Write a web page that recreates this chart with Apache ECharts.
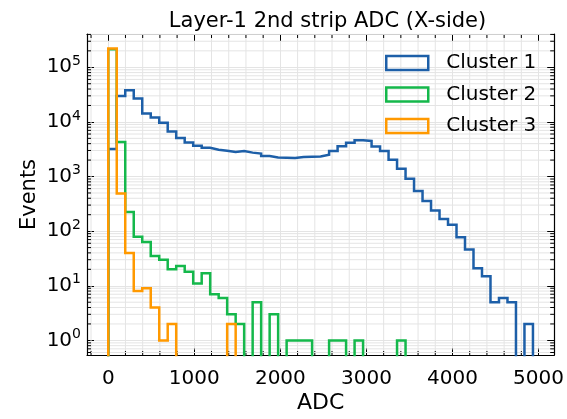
<!DOCTYPE html>
<html>
<head>
<meta charset="utf-8">
<script src="https://cdn.jsdelivr.net/npm/echarts@6/dist/echarts.min.js"></script>
<style>
  html, body { margin: 0; padding: 0; background: #fff; }
  #chart { width: 567px; height: 419px; }
</style>
</head>
<body>
<div id="chart"></div>
<script>
// Histogram binning: 50 equal bins starting at ADC 0
const binStart = 0;
const binWidth = 98.7;

// Event counts per bin
const cluster1 = [3200, 29700, 37800, 26700, 14300, 12000, 9700, 6700, 5100, 4200,
                  3670, 3350, 3090, 2970, 2810, 2930, 2740, 2630, 2370, 2240,
                  2210, 2190, 2270, 2300, 2330, 2500, 2930, 3580, 4140, 4600,
                  4480, 3530, 2930, 2020, 1390, 906, 546, 356, 239, 167,
                  131, 77, 46, 21, 15, 5, 6, 5, 0, 2];
const cluster2 = [215000, 4300, 223, 79, 63, 35, 30, 20, 23, 18,
                  11, 17, 7, 6, 3, 2, 0, 5, 0, 3,
                  0, 1, 1, 1, 0, 0, 1, 1, 0, 1,
                  0, 0, 0, 0, 1, 0, 0, 0, 0, 0,
                  0, 0, 0, 0, 0, 0, 0, 0, 0, 0];
const cluster3 = [220000, 490, 40, 8, 9, 4, 1, 2, 0, 0,
                  0, 0, 0, 0, 2, 0, 0, 0, 0, 0,
                  0, 0, 0, 0, 0, 0, 0, 0, 0, 0,
                  0, 0, 0, 0, 0, 0, 0, 0, 0, 0,
                  0, 0, 0, 0, 0, 0, 0, 0, 0, 0];

const seriesNames = ['Cluster 1', 'Cluster 2', 'Cluster 3'];
const seriesCounts = [cluster1, cluster2, cluster3];

// Axis ranges and minor tick positions
const xRange = [-247, 5182];
const yRange = [0.54, 4.07e5];
const xMinorTicks = [-200, 200, 400, 600, 800, 1200, 1400, 1600, 1800,
                     2200, 2400, 2600, 2800, 3200, 3400, 3600, 3800,
                     4200, 4400, 4600, 4800];
const yMinorTicks = [0.6, 0.7, 0.8, 0.9,
                     2, 3, 4, 5, 6, 7, 8, 9,
                     20, 30, 40, 50, 60, 70, 80, 90,
                     200, 300, 400, 500, 600, 700, 800, 900,
                     2000, 3000, 4000, 5000, 6000, 7000, 8000, 9000,
                     20000, 30000, 40000, 50000, 60000, 70000, 80000, 90000,
                     200000, 300000, 400000];

const COLORS = ['#1d5fa8', '#14b84b', '#ff9900'];
const FONT = 'DejaVu Sans';
const GRID_COLOR = '#e4e4e4';
const MAJOR_LEN = 7;
const MINOR_LEN = 4;
const EMPTY_LEVEL = 0.01; // empty bins drop below the axis floor

// Outline of a step histogram: up the left edge, across each bin, down the right edge
function stepOutline(counts) {
  const edge = i => binStart + i * binWidth;
  const level = c => (c > 0 ? c : EMPTY_LEVEL);
  const pts = [[edge(0), EMPTY_LEVEL]];
  counts.forEach((c, i) => {
    pts.push([edge(i), level(c)], [edge(i + 1), level(c)]);
  });
  pts.push([edge(counts.length), EMPTY_LEVEL]);
  return pts;
}

function powerLabel(v) {
  const e = Math.log10(v);
  const r = Math.round(e);
  if (Math.abs(e - r) > 1e-6) return '';
  return '{b|10}{s|' + r + '}';
}

const chart = echarts.init(document.getElementById('chart'), null, { renderer: 'canvas' });

const axisLineStyle = { color: '#000', width: 1.2 };
const tickStyle = { show: true, inside: true, length: MAJOR_LEN, lineStyle: { color: '#000', width: 1 } };

const histSeries = seriesNames.map((name, i) => ({
  name: name,
  type: 'line',
  data: stepOutline(seriesCounts[i]),
  showSymbol: false,
  symbol: 'none',
  clip: true,
  z: 3 + i,
  lineStyle: { color: COLORS[i], width: 2.5, join: 'miter', cap: 'butt' },
  itemStyle: { color: COLORS[i] },
  emphasis: { disabled: true },
  animation: false
}));

// Minor grid lines and inward minor ticks on all four sides
const xMinorSeries = {
  type: 'custom',
  silent: true,
  z: 1,
  data: xMinorTicks.map(v => [v, 1]),
  renderItem: function (params, api) {
    const cs = params.coordSys;
    const x = api.coord([api.value(0), 1])[0];
    const top = cs.y, bottom = cs.y + cs.height;
    return {
      type: 'group',
      children: [
        { type: 'line', shape: { x1: x, y1: top + 1, x2: x, y2: bottom - 1 }, style: { stroke: GRID_COLOR, lineWidth: 1 } },
        { type: 'line', shape: { x1: x, y1: bottom, x2: x, y2: bottom - MINOR_LEN }, style: { stroke: '#000', lineWidth: 1 } },
        { type: 'line', shape: { x1: x, y1: top, x2: x, y2: top + MINOR_LEN }, style: { stroke: '#000', lineWidth: 1 } }
      ]
    };
  },
  animation: false
};

const yMinorSeries = {
  type: 'custom',
  silent: true,
  z: 1,
  data: yMinorTicks.map(v => [0, v]),
  renderItem: function (params, api) {
    const cs = params.coordSys;
    const y = api.coord([0, api.value(1)])[1];
    const left = cs.x, right = cs.x + cs.width;
    return {
      type: 'group',
      children: [
        { type: 'line', shape: { x1: left + 1, y1: y, x2: right - 1, y2: y }, style: { stroke: GRID_COLOR, lineWidth: 1 } },
        { type: 'line', shape: { x1: left, y1: y, x2: left + MINOR_LEN, y2: y }, style: { stroke: '#000', lineWidth: 1 } },
        { type: 'line', shape: { x1: right, y1: y, x2: right - MINOR_LEN, y2: y }, style: { stroke: '#000', lineWidth: 1 } }
      ]
    };
  },
  animation: false
};

const option = {
  animation: false,
  backgroundColor: '#fff',
  title: {
    text: 'Layer-1 2nd strip ADC (X-side)',
    left: 322.5,
    textAlign: 'center',
    top: 6,
    textStyle: { fontFamily: FONT, fontSize: 21, fontWeight: 'normal', color: '#000' }
  },
  grid: { left: 87, right: 9, top: 34, bottom: 47, containLabel: false },
  legend: {
    orient: 'vertical',
    left: 385,
    top: 53,
    padding: 0,
    itemWidth: 42,
    itemHeight: 14,
    itemGap: 11.5,
    selectedMode: false,
    data: seriesNames.map((n, i) => ({
      name: n,
      icon: 'rect',
      itemStyle: { color: 'rgba(255,255,255,0)', borderColor: COLORS[i], borderWidth: 2.5 }
    })),
    textStyle: { fontFamily: FONT, fontSize: 20, color: '#000', padding: [0, 0, 0, 13] }
  },
  xAxis: [
    {
      type: 'value',
      position: 'bottom',
      min: xRange[0],
      max: xRange[1],
      axisLine: { show: true, onZero: false, lineStyle: axisLineStyle },
      axisTick: tickStyle,
      axisLabel: {
        showMinLabel: false, showMaxLabel: false, margin: 14,
        formatter: v => String(v),
        fontFamily: FONT, fontSize: 20, color: '#000'
      },
      splitLine: { show: true, lineStyle: { color: GRID_COLOR, width: 1 } },
      name: 'ADC',
      nameLocation: 'middle',
      nameGap: 37,
      nameMoveOverlap: false,
      nameTextStyle: { fontFamily: FONT, fontSize: 22, color: '#000' }
    },
    {
      type: 'value',
      position: 'top',
      min: xRange[0],
      max: xRange[1],
      axisLine: { show: true, onZero: false, lineStyle: axisLineStyle },
      axisTick: tickStyle,
      axisLabel: { show: false },
      splitLine: { show: false }
    }
  ],
  yAxis: [
    {
      type: 'log',
      logBase: 10,
      position: 'left',
      min: yRange[0],
      max: yRange[1],
      axisLine: { show: true, onZero: false, lineStyle: axisLineStyle },
      axisTick: tickStyle,
      axisLabel: {
        showMinLabel: false, showMaxLabel: false, margin: 6,
        formatter: powerLabel,
        rich: {
          b: { fontFamily: FONT, fontSize: 20, color: '#000', lineHeight: 26 },
          s: { fontFamily: FONT, fontSize: 14, color: '#000', lineHeight: 13, verticalAlign: 'top' }
        }
      },
      splitLine: { show: true, lineStyle: { color: GRID_COLOR, width: 1 } },
      name: 'Events',
      nameLocation: 'middle',
      nameGap: 47,
      nameRotate: 90,
      nameMoveOverlap: false,
      nameTextStyle: { fontFamily: FONT, fontSize: 21, color: '#000' }
    },
    {
      type: 'log',
      logBase: 10,
      position: 'right',
      min: yRange[0],
      max: yRange[1],
      axisLine: { show: true, onZero: false, lineStyle: axisLineStyle },
      axisTick: tickStyle,
      axisLabel: { show: false },
      splitLine: { show: false }
    }
  ],
  series: [xMinorSeries, yMinorSeries].concat(histSeries)
};

chart.setOption(option);
</script>
</body>
</html>
